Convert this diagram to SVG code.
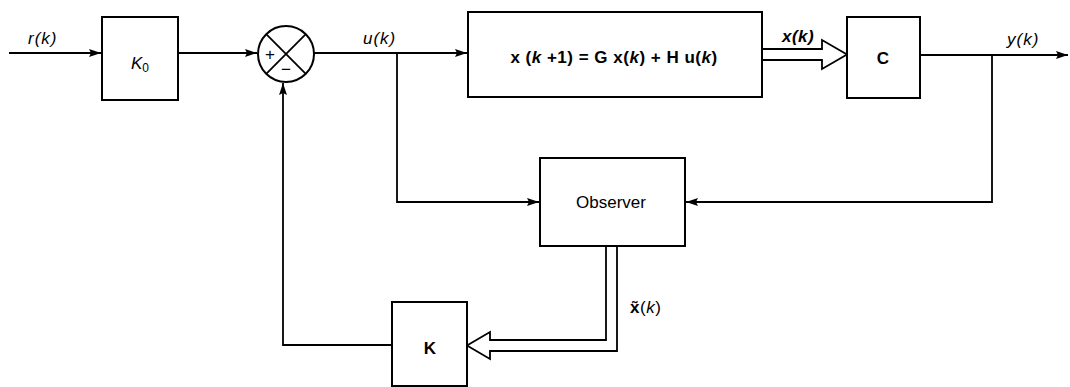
<svg xmlns="http://www.w3.org/2000/svg" width="1070" height="387" viewBox="0 0 1070 387">
<style>
.box{fill:#fff;stroke:#000;stroke-width:2}
.ln{fill:none;stroke:#000;stroke-width:1.8}
.t{font-family:"Liberation Sans",Arial,sans-serif;font-size:17px;fill:#000}
.lb{letter-spacing:1px}
.i{font-style:italic}
.b{font-weight:bold}
</style>
<defs>
<marker id="ah" markerUnits="userSpaceOnUse" markerWidth="14" markerHeight="10" refX="12" refY="4" orient="auto">
<path d="M0,0 L12,4 L0,8 L2,4 Z" fill="#000"/>
</marker>
</defs>
<rect width="1070" height="387" fill="#fff"/>
<g id="connectors">
<line class="ln" x1="9" y1="53" x2="101" y2="53" marker-end="url(#ah)"/>
<line class="ln" x1="178" y1="53" x2="257" y2="53" marker-end="url(#ah)"/>
<line class="ln" x1="314" y1="53" x2="467" y2="53" marker-end="url(#ah)"/>
<polyline class="ln" points="397,53 397,202 539,202" marker-end="url(#ah)"/>
<line class="ln" x1="920" y1="55" x2="1068" y2="55" marker-end="url(#ah)"/>
<polyline class="ln" points="992,55 992,202 686,202" marker-end="url(#ah)"/>
<polyline class="ln" points="392,345 283,345 283,83" marker-end="url(#ah)"/>
<path class="ln" d="M762,49 L822,49 L822,40 L847,54.5 L822,69 L822,60 L762,60" fill="#fff"/>
<path class="ln" d="M606,246 L606,340 L490,340 L490,332 L467,345.5 L490,359 L490,351 L617,351 L617,246" fill="#fff"/>
</g>
<g id="r-label"><text class="t i lb" x="28" y="44">r(k)</text></g>
<g id="K0">
<rect class="box" x="102" y="17" width="76" height="83"/>
<text class="t i" x="131" y="69" font-size="19">K<tspan font-size="12" font-style="normal" dy="3">0</tspan></text>
</g>
<g id="sum">
<circle cx="286" cy="54" r="28" fill="#fff" stroke="#000" stroke-width="2"/>
<line class="ln" x1="266.2" y1="34.2" x2="305.8" y2="73.8"/>
<line class="ln" x1="305.8" y1="34.2" x2="266.2" y2="73.8"/>
<text class="t" x="270" y="60" text-anchor="middle" font-size="14">+</text>
<text class="t" x="286" y="75" text-anchor="middle" font-size="14">−</text>
</g>
<g id="u-label"><text class="t i lb" x="363" y="44">u(k)</text></g>
<g id="plant">
<rect class="box" x="468" y="12" width="294" height="85"/>
<text class="t b" x="614" y="63" text-anchor="middle" font-size="18" letter-spacing="0.5">x (<tspan class="i">k</tspan> +1) = G x(<tspan class="i">k</tspan>) + H u(<tspan class="i">k</tspan>)</text>
</g>
<g id="x-label"><text class="t b i" x="782" y="42" letter-spacing="0.5">x(k)</text></g>
<g id="C">
<rect class="box" x="847" y="17" width="73" height="81"/>
<text class="t b" x="883" y="64" text-anchor="middle" font-size="19">C</text>
</g>
<g id="y-label"><text class="t i lb" x="1007" y="45">y(k)</text></g>
<g id="observer">
<rect class="box" x="540" y="158" width="145" height="88"/>
<text class="t" x="611" y="208" text-anchor="middle" font-size="19">Observer</text>
</g>
<g id="xt-label"><text class="t" x="630" y="313" letter-spacing="0.5"><tspan class="b">x̃</tspan>(<tspan class="i">k</tspan>)</text></g>
<g id="K">
<rect class="box" x="392" y="302" width="75" height="84"/>
<text class="t b" x="430" y="354" text-anchor="middle" font-size="18">K</text>
</g>
</svg>
